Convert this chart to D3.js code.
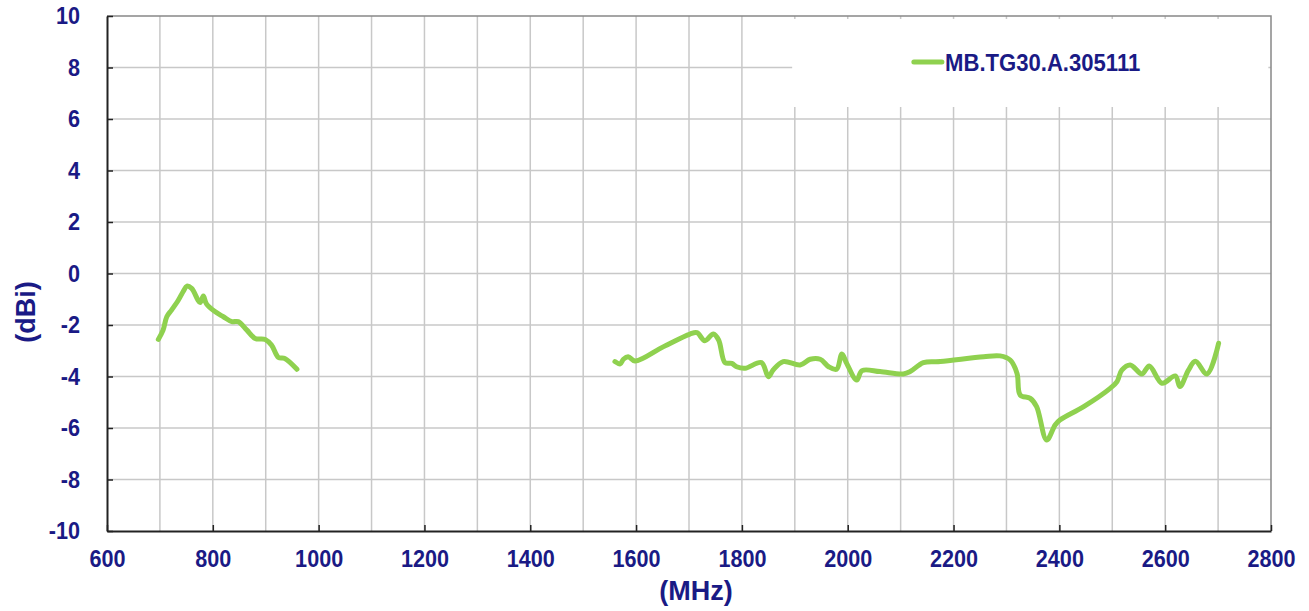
<!DOCTYPE html>
<html lang="en">
<head>
  <meta charset="UTF-8" />
  <title>MB.TG30.A.305111 gain</title>
  <style>
    body { margin: 0; background: #fff; font-family: "Liberation Sans", Arial, sans-serif; }
  </style>
</head>
<body>
  <div id="chart"></div>
  <script src="https://d3js.org/d3.v7.min.js"></script>
  <script>
    // low band (MHz / dBi)
    const lowFreq = [697, 706, 713, 722, 735, 744, 751, 760, 776, 782, 788, 804, 820, 836, 848, 864, 880, 899, 911, 924, 936, 959];
    const lowGain = [-2.56, -2.2, -1.68, -1.42, -1.03, -0.7, -0.49, -0.58, -1.13, -0.87, -1.18, -1.48, -1.68, -1.87, -1.87, -2.19, -2.52, -2.56, -2.78, -3.26, -3.3, -3.72];

    // high band
    const highFreq = [1560, 1570, 1576, 1585, 1598, 1652, 1702, 1715, 1730, 1746, 1756, 1768, 1781, 1790, 1806, 1837, 1850, 1859, 1878, 1910, 1929, 1948, 1964, 1979, 1989, 1998, 2017, 2027, 2061, 2105, 2118, 2143, 2175, 2257, 2288, 2307, 2320, 2326, 2345, 2357, 2376, 2392, 2401, 2446, 2496, 2509, 2518, 2534, 2556, 2570, 2594, 2619, 2628, 2644, 2657, 2679, 2701];
    const highGain = [-3.42, -3.51, -3.33, -3.23, -3.4, -2.84, -2.35, -2.3, -2.61, -2.35, -2.58, -3.46, -3.49, -3.62, -3.68, -3.46, -4.01, -3.75, -3.42, -3.55, -3.33, -3.33, -3.62, -3.72, -3.13, -3.49, -4.14, -3.77, -3.81, -3.9, -3.81, -3.46, -3.42, -3.23, -3.2, -3.36, -3.88, -4.72, -4.85, -5.17, -6.47, -5.88, -5.69, -5.17, -4.46, -4.2, -3.75, -3.55, -3.9, -3.59, -4.26, -3.98, -4.39, -3.75, -3.41, -3.9, -2.71];

    const xTicks = [600, 800, 1000, 1200, 1400, 1600, 1800, 2000, 2200, 2400, 2600, 2800];
    const yTicks = [-10, -8, -6, -4, -2, 0, 2, 4, 6, 8, 10];
    const seriesName = "MB.TG30.A.305111";

    const W = 1309, H = 611;
    const margin = { top: 16, right: 38, bottom: 80, left: 107 };
    const width = W - margin.left - margin.right,
          height = H - margin.top - margin.bottom;

    const navy = "#1a1a85";
    const green = "#8fd14f";

    const svg = d3.select("#chart").append("svg")
      .attr("width", W)
      .attr("height", H);

    const g = svg.append("g")
      .attr("transform", `translate(${margin.left},${margin.top})`);

    const x = d3.scaleLinear().domain([600, 2800]).range([0, width]);
    const y = d3.scaleLinear().domain([-10, 10]).range([height, 0]);

    // squeeze text horizontally a bit, the original font is narrow
    function squeeze(sel, k) {
      sel.each(function () {
        const len = this.getComputedTextLength();
        d3.select(this).attr("textLength", len * k).attr("lengthAdjust", "spacingAndGlyphs");
      });
    }

    // grid
    g.append("g")
      .selectAll("line")
      .data(d3.range(700, 2800, 100))
      .join("line")
      .attr("x1", d => x(d)).attr("x2", d => x(d))
      .attr("y1", 0).attr("y2", height)
      .attr("stroke", "#c8c8c8").attr("stroke-width", 1.5);

    g.append("g")
      .selectAll("line")
      .data(yTicks.slice(1, -1))
      .join("line")
      .attr("x1", 0).attr("x2", width)
      .attr("y1", d => y(d)).attr("y2", d => y(d))
      .attr("stroke", "#c8c8c8").attr("stroke-width", 1.5);

    // top and right border
    g.append("path")
      .attr("d", `M0,0H${width}V${height}`)
      .attr("fill", "none")
      .attr("stroke", "#888")
      .attr("stroke-width", 1.5);

    // legend box hides the grid behind it
    g.append("rect")
      .attr("x", x(1895)).attr("y", 3)
      .attr("width", x(2795) - x(1895)).attr("height", 88)
      .attr("fill", "#fff");

    const fmt = d => String(d);

    // axes
    const xAxis = g.append("g")
      .attr("transform", `translate(0,${height})`)
      .call(d3.axisBottom(x).tickValues(xTicks).tickFormat(fmt).tickSizeInner(-6).tickSizeOuter(0).tickPadding(19));
    xAxis.select(".domain").attr("stroke", "#222").attr("stroke-width", 2);
    xAxis.selectAll(".tick line").attr("stroke", "#222").attr("stroke-width", 1.5);
    xAxis.selectAll("text")
      .attr("fill", navy)
      .attr("font-size", 24)
      .attr("font-weight", "bold")
      .attr("font-family", "'Liberation Sans', Arial, sans-serif")
      .call(squeeze, 0.9);

    const yAxis = g.append("g")
      .call(d3.axisLeft(y).tickValues(yTicks).tickFormat(fmt).tickSizeInner(-6).tickSizeOuter(0).tickPadding(27));
    yAxis.select(".domain").attr("stroke", "#222").attr("stroke-width", 2);
    yAxis.selectAll(".tick line").attr("stroke", "#222").attr("stroke-width", 1.5);
    yAxis.selectAll("text")
      .attr("fill", navy)
      .attr("font-size", 24)
      .attr("font-weight", "bold")
      .attr("font-family", "'Liberation Sans', Arial, sans-serif")
      .call(squeeze, 0.9);

    // curves
    const line = d3.line()
      .x(d => x(d[0]))
      .y(d => y(d[1]))
      .curve(d3.curveCatmullRom.alpha(0.5));

    const bands = [d3.zip(lowFreq, lowGain), d3.zip(highFreq, highGain)];
    g.selectAll(".band")
      .data(bands)
      .join("path")
      .attr("class", "band")
      .attr("d", line)
      .attr("fill", "none")
      .attr("stroke", green)
      .attr("stroke-width", 5)
      .attr("stroke-linejoin", "round")
      .attr("stroke-linecap", "round");

    // legend
    g.append("line")
      .attr("x1", x(2125)).attr("x2", x(2178))
      .attr("y1", 46).attr("y2", 46)
      .attr("stroke", green).attr("stroke-width", 5).attr("stroke-linecap", "round");
    g.append("text")
      .attr("x", x(2184)).attr("y", 55)
      .attr("fill", navy)
      .attr("font-size", 24)
      .attr("font-weight", "bold")
      .text(seriesName)
      .call(squeeze, 0.92);

    // axis titles
    svg.append("text")
      .attr("x", 696).attr("y", 600)
      .attr("text-anchor", "middle")
      .attr("fill", navy)
      .attr("font-size", 27)
      .attr("font-weight", "bold")
      .text("(MHz)");

    svg.append("text")
      .attr("transform", "translate(35,312) rotate(-90)")
      .attr("text-anchor", "middle")
      .attr("fill", navy)
      .attr("font-size", 27)
      .attr("font-weight", "bold")
      .text("(dBi)");
  </script>
</body>
</html>
